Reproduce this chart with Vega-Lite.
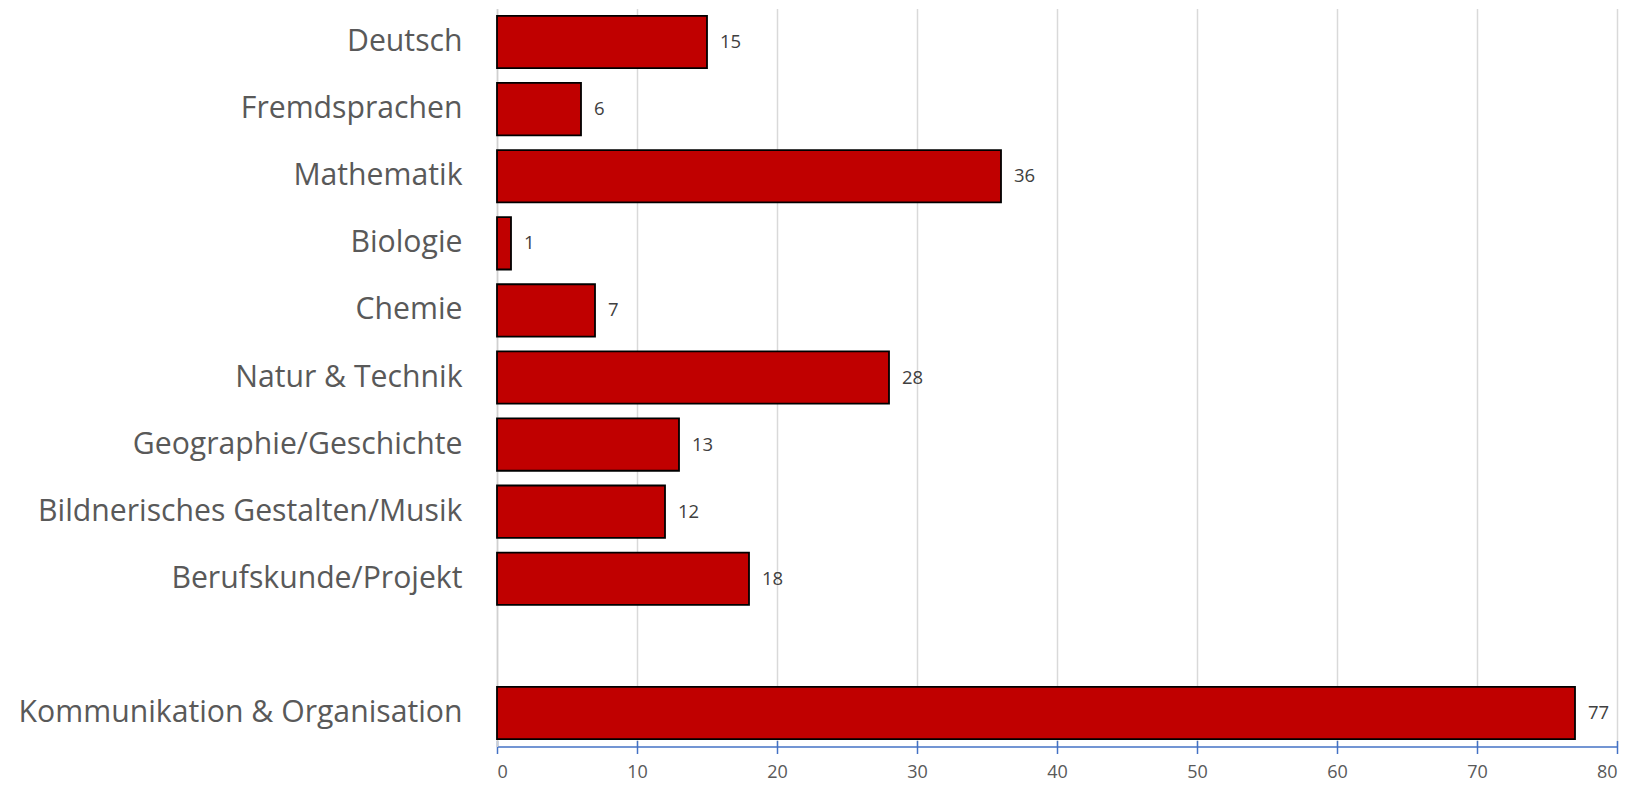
{
  "$schema": "https://vega.github.io/schema/vega-lite/v6.json",
  "autosize": {"type": "none"},
  "padding": {"left": 497, "top": 8.5, "right": 12, "bottom": 38.5},
  "width": 1120,
  "height": 738,
  "background": "white",
  "config": {"view": {"stroke": null}, "font": "Open Sans"},
  "data": {"values": [
    {"fach": "Deutsch", "anzahl": 15},
    {"fach": "Fremdsprachen", "anzahl": 6},
    {"fach": "Mathematik", "anzahl": 36},
    {"fach": "Biologie", "anzahl": 1},
    {"fach": "Chemie", "anzahl": 7},
    {"fach": "Natur & Technik", "anzahl": 28},
    {"fach": "Geographie/Geschichte", "anzahl": 13},
    {"fach": "Bildnerisches Gestalten/Musik", "anzahl": 12},
    {"fach": "Berufskunde/Projekt", "anzahl": 18},
    {"fach": "Kommunikation & Organisation", "anzahl": 77}
  ]},
  "encoding": {
    "y": {
      "field": "fach", "type": "nominal", "title": null,
      "scale": {
        "domain": ["Deutsch", "Fremdsprachen", "Mathematik", "Biologie", "Chemie", "Natur & Technik", "Geographie/Geschichte", "Bildnerisches Gestalten/Musik", "Berufskunde/Projekt", " ", "Kommunikation & Organisation"],
        "paddingInner": 0.22, "paddingOuter": 0.11
      },
      "axis": {
        "ticks": false, "labelPadding": 35, "labelFontSize": 30.2, "labelColor": "#595959",
        "labelFont": "Open Sans", "domainColor": "#d0d0d0", "domainWidth": 1.5, "grid": false, "labelLimit": 600
      }
    },
    "x": {
      "field": "anzahl", "type": "quantitative", "title": null,
      "scale": {"domain": [0, 80], "nice": false},
      "axis": {
        "values": [0, 10, 20, 30, 40, 50, 60, 70, 80],
        "grid": true, "gridColor": "#d9d9d9", "gridWidth": 1.5,
        "domainColor": "#4472C4", "domainWidth": 1.5,
        "tickColor": "#4472C4", "tickWidth": 1.5, "tickSize": 7,
        "labelFontSize": 18, "labelColor": "#595959", "labelPadding": 10, "labelFont": "Open Sans"
      }
    }
  },
  "layer": [
    {
      "mark": {"type": "bar", "color": "#C00000", "stroke": "#000000", "strokeWidth": 1.8}
    },
    {
      "mark": {"type": "text", "align": "left", "baseline": "middle", "dx": 13, "fontSize": 18.5, "color": "#404040", "font": "Open Sans"},
      "encoding": {
        "text": {"field": "anzahl", "type": "quantitative"},
        "x": {
          "field": "anzahl", "type": "quantitative",
          "axis": {
            "orient": "bottom", "values": [0, 10, 20, 30, 40, 50, 60, 70, 80],
            "grid": false, "labels": false, "domain": false,
            "tickColor": "#4472C4", "tickWidth": 1.5, "tickSize": -6
          }
        }
      }
    }
  ],
  "resolve": {"axis": {"x": "independent"}}
}
